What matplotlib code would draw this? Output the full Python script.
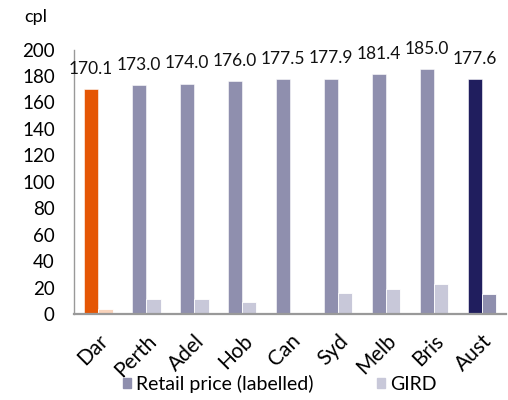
import numpy as np
import matplotlib
matplotlib.use("Agg")
import matplotlib.pyplot as plt
from matplotlib.patches import Patch

plt.rcParams['font.family'] = ['Lato', 'DejaVu Sans']

cities = ["Dar", "Perth", "Adel", "Hob", "Can", "Syd", "Melb", "Bris", "Aust"]
retail = [170.1, 173.0, 174.0, 176.0, 177.5, 177.9, 181.4, 185.0, 177.6]
gird = [4, 11.5, 11.5, 9, 0, 16, 19, 23, 15.5]

c_retail = "#8f8fae"
c_gird = "#c8c8d9"
retail_cols = ["#e55604"] + [c_retail] * 7 + ["#201e5e"]
gird_cols = ["#f9d3bb"] + [c_gird] * 7 + [c_retail]

fig = plt.figure(figsize=(5.08, 4.0), dpi=100)
ax = fig.add_axes([0.146, 0.215, 0.85, 0.661])

x = np.arange(len(cities))
w = 0.3
ax.bar(x - w / 2, retail, w, color=retail_cols, edgecolor="white", linewidth=0.4)
ax.bar(x + w / 2, gird, w, color=gird_cols, edgecolor="white", linewidth=0.6)

for xi, v in zip(x, retail):
    ax.annotate(f"{v:.1f}", (xi - w / 2, v), xytext=(0, 9), textcoords="offset points",
                ha="center", va="bottom", fontsize=12.5, color="#111111")

ax.set_xlim(-0.5, 8.5)
ax.set_ylim(0, 200)
ax.set_yticks(np.arange(0, 201, 20))
ax.set_xticks(x)
ax.set_xticklabels(cities, rotation=45, ha="right", rotation_mode="anchor")
ax.tick_params(axis="y", length=0, pad=14, labelsize=13.5)
ax.tick_params(axis="x", length=0, pad=12, labelsize=15)
for lab in ax.get_xticklabels():
    lab.set_x(lab.get_position()[0])

for s in ["top", "right"]:
    ax.spines[s].set_visible(False)
ax.spines["left"].set_color("#999999")
ax.spines["left"].set_linewidth(1.0)
ax.spines["bottom"].set_color("#999999")
ax.spines["bottom"].set_linewidth(1.6)

fig.text(0.047, 0.957, "cpl", fontsize=13, ha="left", va="center")

handles = [Patch(color=c_retail, label="Retail price (labelled)"),
           Patch(color=c_gird, label="GIRD")]
fig.legend(handles=handles, loc="center", bbox_to_anchor=(0.551, 0.04), ncol=2,
           frameon=False, fontsize=14, handlelength=0.4, handleheight=0.4,
           handletextpad=0.25, columnspacing=3.3)

fig.savefig("out.png", dpi=100)
